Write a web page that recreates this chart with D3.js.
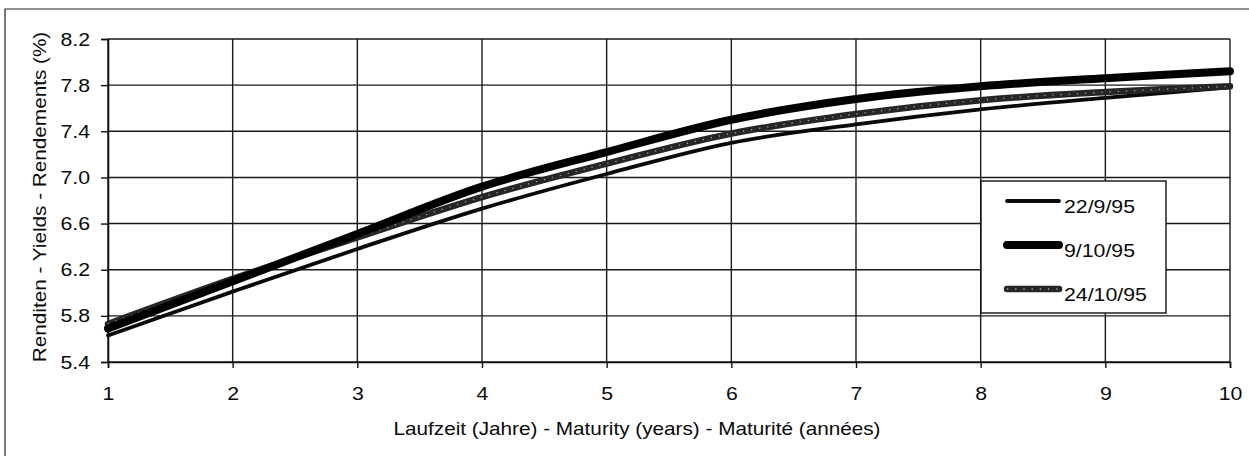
<!DOCTYPE html>
<html>
<head>
<meta charset="utf-8">
<script src="https://cdn.jsdelivr.net/npm/d3@7"></script>
<style>
	body { margin: 0; background: #fff; }
	svg { display: block; }
	text { font-family: "Liberation Sans", Arial, sans-serif; fill: #0a0a0a; }
</style>
</head>
<body>
<div id="chart"></div>
<script>
var maturities = [1, 2, 3, 4, 5, 6, 7, 8, 9, 10];
var yieldTicks = [5.4, 5.8, 6.2, 6.6, 7.0, 7.4, 7.8, 8.2];
var seriesNames = ['22/9/95', '9/10/95', '24/10/95'];
var yields_22_9 = [5.63, 6.01, 6.38, 6.73, 7.03, 7.30, 7.46, 7.59, 7.69, 7.78];
var yields_9_10 = [5.69, 6.10, 6.51, 6.92, 7.22, 7.50, 7.68, 7.79, 7.86, 7.92];
var yields_24_10 = [5.73, 6.12, 6.48, 6.83, 7.12, 7.38, 7.55, 7.67, 7.74, 7.79];

var X_TITLE = 'Laufzeit (Jahre) - Maturity (years) - Maturité (années)';
var Y_TITLE = 'Renditen - Yields - Rendements (%)';
var STRETCH = 1.12;
var FONT = '19px';

var width = 1249,
	height = 459,
	plot = { left: 108, right: 1230, top: 39, bottom: 362 };

var svg = d3.select('#chart').append('svg')
	.attr('width', width)
	.attr('height', height);

// outer frame (only top and left edges show in the scan)
svg.append('path')
	.attr('d', 'M5,456V9H1249')
	.attr('fill', 'none')
	.attr('stroke', '#222')
	.attr('stroke-width', 1.2);

var x = d3.scaleLinear()
	.domain([1, 10])
	.range([plot.left, plot.right]);

var y = d3.scaleLinear()
	.domain([5.4, 8.2])
	.range([plot.bottom, plot.top]);

function widen(sel) {
	sel.each(function () {
		var w = this.getComputedTextLength();
		d3.select(this)
			.attr('textLength', w * STRETCH)
			.attr('lengthAdjust', 'spacingAndGlyphs');
	});
}

// grid
var grid = svg.append('g').attr('class', 'grid');
grid.selectAll('line.h')
	.data(yieldTicks)
	.enter().append('line')
	.attr('class', 'h')
	.attr('x1', plot.left)
	.attr('x2', plot.right)
	.attr('y1', function (d) { return y(d); })
	.attr('y2', function (d) { return y(d); })
	.attr('stroke', '#1a1a1a')
	.attr('stroke-width', 1.4);

grid.selectAll('line.v')
	.data(maturities)
	.enter().append('line')
	.attr('class', 'v')
	.attr('x1', function (d) { return x(d); })
	.attr('x2', function (d) { return x(d); })
	.attr('y1', plot.top)
	.attr('y2', plot.bottom)
	.attr('stroke', '#1a1a1a')
	.attr('stroke-width', 1.4);

// axes
var xAxis = d3.axisBottom(x)
	.tickValues(maturities)
	.tickFormat(d3.format('d'))
	.tickSize(6)
	.tickPadding(19);

var yAxis = d3.axisLeft(y)
	.tickValues(yieldTicks)
	.tickFormat(d3.format('.1f'))
	.tickSize(7)
	.tickPadding(11);

var gx = svg.append('g')
	.attr('transform', 'translate(0,' + plot.bottom + ')')
	.call(xAxis);

var gy = svg.append('g')
	.attr('transform', 'translate(' + plot.left + ',0)')
	.call(yAxis);

[gx, gy].forEach(function (g) {
	g.select('.domain').attr('stroke', '#111').attr('stroke-width', 1.6);
	g.selectAll('.tick line').attr('stroke', '#111').attr('stroke-width', 1.4);
	g.selectAll('.tick text')
		.style('font-family', '"Liberation Sans", Arial, sans-serif')
		.style('font-size', FONT)
		.attr('fill', '#0a0a0a')
		.call(widen);
});

// axis titles
svg.append('text')
	.attr('x', 637)
	.attr('y', 435)
	.attr('text-anchor', 'middle')
	.style('font-size', '18.5px')
	.text(X_TITLE)
	.call(widen);

svg.append('text')
	.attr('transform', 'translate(46,197) rotate(-90)')
	.attr('text-anchor', 'middle')
	.style('font-size', '18.5px')
	.text(Y_TITLE)
	.call(widen);

// lines
var line = d3.line()
	.curve(d3.curveCatmullRom)
	.x(function (d) { return x(d[0]); })
	.y(function (d) { return y(d[1]); });

function pairs(values) {
	return maturities.map(function (m, i) { return [m, values[i]]; });
}

var styles = [
	{ name: seriesNames[0], values: yields_22_9, color: '#0a0a0a', width: 3.8 },
	{ name: seriesNames[2], values: yields_24_10, color: '#262626', width: 6.5, speckle: true },
	{ name: seriesNames[1], values: yields_9_10, color: '#000', width: 8 }
];

var lines = svg.append('g').attr('class', 'lines');
styles.forEach(function (s) {
	lines.append('path')
		.datum(pairs(s.values))
		.attr('d', line)
		.attr('fill', 'none')
		.attr('stroke', s.color)
		.attr('stroke-width', s.width)
		.attr('stroke-linecap', 'round')
		.attr('stroke-linejoin', 'round');
	if (s.speckle) {
		lines.append('path')
			.datum(pairs(s.values))
			.attr('d', line)
			.attr('fill', 'none')
			.attr('stroke', '#fff')
			.attr('stroke-opacity', 0.6)
			.attr('stroke-width', 1.3)
			.attr('stroke-dasharray', '1.2 7');
	}
});

// legend
var legend = svg.append('g').attr('class', 'legend');
legend.append('rect')
	.attr('x', 981)
	.attr('y', 181)
	.attr('width', 185)
	.attr('height', 132)
	.attr('fill', '#fff')
	.attr('stroke', '#111')
	.attr('stroke-width', 1.4);

var legendItems = [
	{ name: seriesNames[0], color: '#0a0a0a', width: 3.8 },
	{ name: seriesNames[1], color: '#000', width: 8 },
	{ name: seriesNames[2], color: '#262626', width: 6.5, speckle: true }
];

legendItems.forEach(function (s, i) {
	var ly = 201 + i * 44;
	legend.append('line')
		.attr('x1', 1007).attr('x2', 1059)
		.attr('y1', ly).attr('y2', ly)
		.attr('stroke', s.color)
		.attr('stroke-width', s.width)
		.attr('stroke-linecap', 'round');
	if (s.speckle) {
		legend.append('line')
			.attr('x1', 1007).attr('x2', 1059)
			.attr('y1', ly).attr('y2', ly)
			.attr('stroke', '#fff')
			.attr('stroke-opacity', 0.6)
			.attr('stroke-width', 1.3)
			.attr('stroke-dasharray', '1.2 7');
	}
	legend.append('text')
		.attr('x', 1064)
		.attr('y', ly + 12)
		.style('font-size', FONT)
		.text(s.name)
		.call(widen);
});
</script>
</body>
</html>
